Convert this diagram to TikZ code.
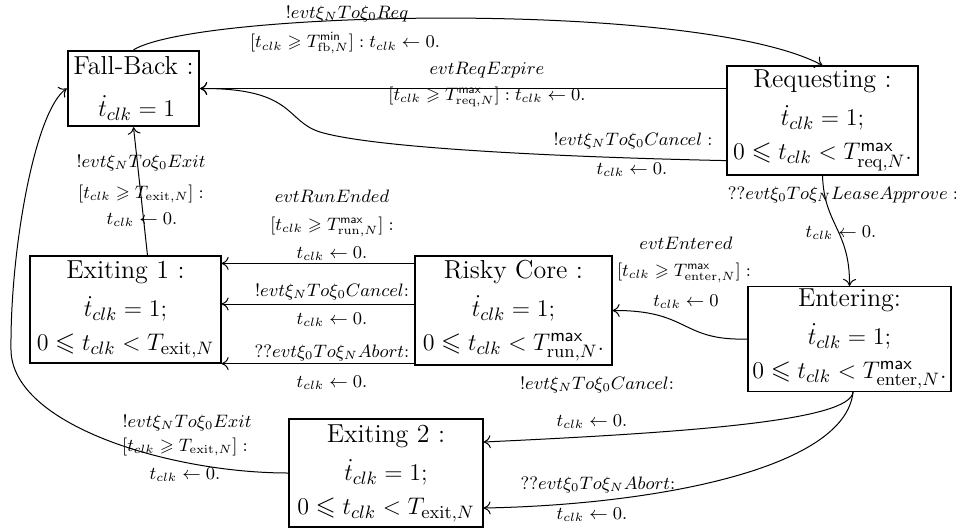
\documentclass[tikz,border=0pt]{standalone}
\usepackage{amsmath,amssymb}
\usetikzlibrary{arrows.meta}

\tikzset{
  statebox/.style={draw, line width=0.6pt, align=center, inner sep=1pt,
    font=\fontsize{13pt}{16pt}\selectfont},
  lbl/.style={inner sep=0pt, font=\fontsize{9pt}{11pt}\selectfont},
  tr/.style={-{To[length=3.5pt,width=6.5pt]}, line width=0.5pt},
}
\newcommand{\tclk}{t_{clk}}

\begin{document}
\begin{tikzpicture}[x=0.5pt, y=-0.5pt]
\useasboundingbox[fill=white] (0,0) rectangle (956,531);

% states
\node[statebox, line width=1.2pt, minimum width=65.5pt, minimum height=37.5pt] (fb) at (133.5,88.5)
  {Fall-Back :\\[5pt] $\;\dot{t}_{clk} = 1$};
\node[statebox, minimum width=95.5pt, minimum height=54.5pt] (req) at (822.5,120.5)
  {Requesting :\\[3pt] $\dot{t}_{clk} = 1;$\\[1pt] $0 \leqslant \tclk < T^{\mathsf{max}}_{\mathrm{req},N}.$};
\node[statebox, minimum width=95.5pt, minimum height=53.5pt] (ex1) at (125.5,309.5)
  {Exiting 1 :\\[3pt] $\dot{t}_{clk} = 1;$\\[1pt] $0 \leqslant \tclk < T_{\mathrm{exit},N}$};
\node[statebox, minimum width=98.5pt, minimum height=54.5pt] (rc) at (513.5,310.5)
  {Risky Core :\\[3pt] $\dot{t}_{clk} = 1;$\\[1pt] $0 \leqslant \tclk < T^{\mathsf{max}}_{\mathrm{run},N}.$};
\node[statebox, minimum width=101.5pt, minimum height=51pt] (ent) at (849.5,339)
  {Entering:\\[3pt] $\dot{t}_{clk} = 1;$\\[1pt] $0 \leqslant \tclk < T^{\mathsf{max}}_{\mathrm{enter},N}.$};
\node[statebox, minimum width=97pt, minimum height=54pt] (ex2) at (386,473)
  {Exiting 2 :\\[3pt] $\dot{t}_{clk} = 1;$\\[1pt] $0 \leqslant \tclk < T_{\mathrm{exit},N}$};

% Fall-Back -> Requesting
\draw[tr] (fb.north) .. controls (200,10) and (700,0) .. (req.north);
\node[lbl] (l1a) at (347,14) {$!evt\xi_NTo\xi_0Req$};
\node[lbl] (l1b) at (345,43) {$[\tclk \geqslant T^{\mathsf{min}}_{\mathrm{fb},N}] : \tclk \leftarrow 0.$};

% Requesting -> Fall-Back (expiry)
\draw[tr] (req.west |- fb.east) -- (fb.east);
\node[lbl] (l2a) at (487,70) {$evtReqExpire$};
\node[lbl] (l2b) at (487,97) {$[\tclk \geqslant T^{\mathsf{max}}_{\mathrm{req},N}] : \tclk \leftarrow 0.$};

% Requesting -> Fall-Back (cancel)
\draw[tr] ([yshift=7.5pt]req.south west) .. controls (600,158) and (380,150) .. (320,132)
  .. controls (285,121) and (295,88) .. (fb.east);
\node[lbl] (l3a) at (633,141) {$!evt\xi_NTo\xi_0Cancel :$};
\node[lbl] (l3b) at (632,170) {$\tclk \leftarrow 0.$};

% Requesting -> Entering
\draw[tr] (req.south) .. controls (824,225) and (850,230) .. (ent.north);
\node[lbl] (l4a) at (843,195) {$??evt\xi_0To\xi_NLeaseApprove :$};
\node[lbl] (l4b) at (841,233) {$\tclk \leftarrow 0.$};

% Entering -> Risky Core
\draw[tr] (ent.west) .. controls (680,341) and (690,310) .. (rc.east);
\node[lbl] (l5a) at (686,243) {$evtEntered$};
\node[lbl] (l5b) at (684,273) {$[\tclk \geqslant T^{\mathsf{max}}_{\mathrm{enter},N}] :$};
\node[lbl] (l5c) at (686,302) {$\tclk \leftarrow 0$};

% Risky Core -> Exiting 1
\coordinate (r1) at ([yshift=-4pt]rc.north west);
\coordinate (r2) at ([yshift=3.25pt]rc.west);
\coordinate (r3) at ([yshift=1pt]rc.south west);
\draw[tr] (r1) -- (r1 -| ex1.east);
\draw[tr] (r2) -- (r2 -| ex1.east);
\draw[tr] (r3) -- (r3 -| ex1.east);
\node[lbl] (l6a) at (332,196) {$evtRunEnded$};
\node[lbl] (l6b) at (332,227) {$[\tclk \geqslant T^{\mathsf{max}}_{\mathrm{run},N}] :$};
\node[lbl] (l6c) at (332,254) {$\tclk \leftarrow 0.$};
\node[lbl] (l7a) at (332,292) {$!evt\xi_NTo\xi_0Cancel$:};
\node[lbl] (l7b) at (332,320) {$\tclk \leftarrow 0.$};
\node[lbl] (l8a) at (332,353) {$??evt\xi_0To\xi_NAbort$:};
\node[lbl] (l8b) at (332,383) {$\tclk \leftarrow 0.$};

% Exiting 1 -> Fall-Back
\draw[tr] ([xshift=11pt]ex1.north) -- (fb.south);
\node[lbl] (l9a) at (141,163) {$!evt\xi_NTo\xi_0Exit$};
\node[lbl] (l9b) at (141,194) {$[\tclk \geqslant T_{\mathrm{exit},N}] :$};
\node[lbl] (l9c) at (142,220) {$\tclk \leftarrow 0.$};

% Exiting 2 -> Fall-Back
\draw[tr] (ex2.west) .. controls (170,473) and (12,425) .. (11,350)
  .. controls (10,250) and (35,110) .. (fb.west);
\node[lbl] (l10a) at (187,423) {$!evt\xi_NTo\xi_0Exit$};
\node[lbl] (l10b) at (185,447) {$[\tclk \geqslant T_{\mathrm{exit},N}] :$};
\node[lbl] (l10c) at (185,475) {$\tclk \leftarrow 0.$};

% Entering -> Exiting 2
\coordinate (es) at ([xshift=1.75pt]ent.south);
\draw[tr] (es) .. controls (850,420) and (700,432) .. ([yshift=15.5pt]ex2.east);
\draw[tr] (es) .. controls (845,470) and (650,505) .. ([yshift=-17.5pt]ex2.east);
\node[lbl] (l11a) at (597,385) {$!evt\xi_NTo\xi_0Cancel$:};
\node[lbl] (l11b) at (592,422) {$\tclk \leftarrow 0.$};
\node[lbl] (l12a) at (598,485) {$??evt\xi_0To\xi_NAbort$:};
\node[lbl] (l12b) at (592,515) {$\tclk \leftarrow 0.$};
\end{tikzpicture}
\end{document}
